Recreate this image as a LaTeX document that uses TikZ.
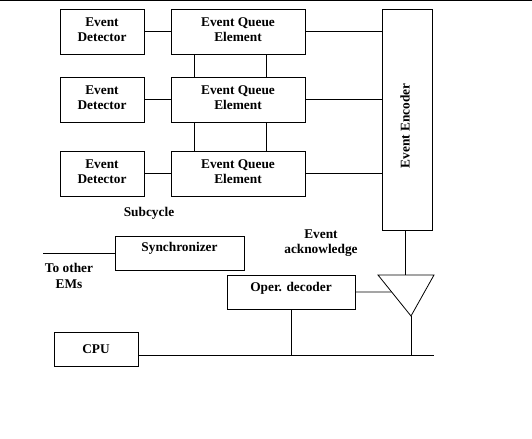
\documentclass[tikz,border=0pt]{standalone}
\usepackage{fontspec}
\setmainfont{Liberation Serif}
\usetikzlibrary{calc}

\tikzset{
  box/.style={draw, inner sep=0pt, outer sep=0pt, align=center,
    font=\bfseries\fontsize{10}{11.5}\selectfont},
  lbl/.style={inner sep=0pt, align=center,
    font=\bfseries\fontsize{10}{11.5}\selectfont},
  wire/.style={line width=0.6pt}
}

\begin{document}
\begin{tikzpicture}[x=0.75pt, y=-0.75pt, line width=0.6pt]
  \useasboundingbox (0,0) rectangle (532,439);
  % top rule
  \draw (0,0.8) -- (532,0.8);

  % Event detectors
  \node[box, minimum width=63pt, minimum height=33.75pt, text depth=3pt] (det1) at (102,31.5) {Event\\Detector};
  \node[box, minimum width=63pt, minimum height=33.75pt, text depth=3pt] (det2) at (102,99.5) {Event\\Detector};
  \node[box, minimum width=63pt, minimum height=33.75pt, text depth=3pt] (det3) at (102,173.5) {Event\\Detector};

  % Event queue elements
  \node[box, minimum width=100.5pt, minimum height=33.75pt, text depth=3pt] (eqe1) at (238,31.5) {Event Queue\\Element};
  \node[box, minimum width=100.5pt, minimum height=33.75pt, text depth=3pt] (eqe2) at (238,99.5) {Event Queue\\Element};
  \node[box, minimum width=100.5pt, minimum height=33.75pt, text depth=3pt] (eqe3) at (238,173.5) {Event Queue\\Element};

  % Event encoder
  \node[box, minimum width=37.5pt, minimum height=165.75pt] (enc) at (407,119.5) {};
  \node[lbl, rotate=90] (enctxt) at (405,126) {Event Encoder};

  % lower blocks
  \node[box, minimum width=96.75pt, minimum height=25.5pt, text height=7pt, text depth=9pt] (sync) at (179.5,253) {Synchronizer};
  \node[box, minimum width=96pt, minimum height=25.5pt, text height=7pt, text depth=7.5pt] (dec) at (291,292) {Oper. decoder};
  \node[box, minimum width=63pt, minimum height=25.5pt] (cpu) at (96,349) {CPU};

  % labels
  \node[lbl] (subc) at (149,213) {Subcycle};
  \node[lbl] (ack) at (321,243) {Event\\acknowledge};
  \node[lbl] (ems) at (69,276) {To other\\EMs};

  % triangle (driver)
  \coordinate (tl) at (378,275);
  \coordinate (tr) at (434,275);
  \coordinate (apex) at (411,316);
  \draw (tl) -- (tr) -- (apex) -- cycle;
  \coordinate (tin) at ($(tl)!0.415!(apex)$);

  % free ends
  \coordinate (emsend) at (43,253);
  \coordinate (busend) at (434,355);

  % detector to queue, queue to encoder
  \draw (det1.east) -- (eqe1.west);
  \draw (det2.east) -- (eqe2.west);
  \draw (det3.east) -- (eqe3.west);
  \draw (eqe1.east) -- (eqe1.east -| enc.west);
  \draw (eqe2.east) -- (eqe2.east -| enc.west);
  \draw (eqe3.east) -- (eqe3.east -| enc.west);

  % queue chain
  \draw ($(eqe1.south west)+(23,0)$) -- ($(eqe2.north west)+(23,0)$);
  \draw ($(eqe1.south east)+(-39,0)$) -- ($(eqe2.north east)+(-39,0)$);
  \draw ($(eqe2.south west)+(23,0)$) -- ($(eqe3.north west)+(23,0)$);
  \draw ($(eqe2.south east)+(-39,0)$) -- ($(eqe3.north east)+(-39,0)$);
  \draw ($(eqe3.south west)+(23,0)$) -- ($(eqe3.south west)+(23,0)$ |- sync.north);
  \draw ($(eqe3.south east)+(-39,0)$) -- ($(eqe3.south east)+(-39,0)$ |- dec.north);

  % synchronizer, decoder, bus
  \draw (sync.west) -- (emsend);
  \draw ([xshift=-1.5pt]enc.south) -- ([xshift=-1.5pt]enc.south |- tl);
  \draw (dec.east) -- (tin);
  \draw (apex) -- (apex |- busend);
  \draw (dec.south) -- (dec.south |- busend);
  \draw (cpu.east |- busend) -- (busend);
\end{tikzpicture}
\end{document}
